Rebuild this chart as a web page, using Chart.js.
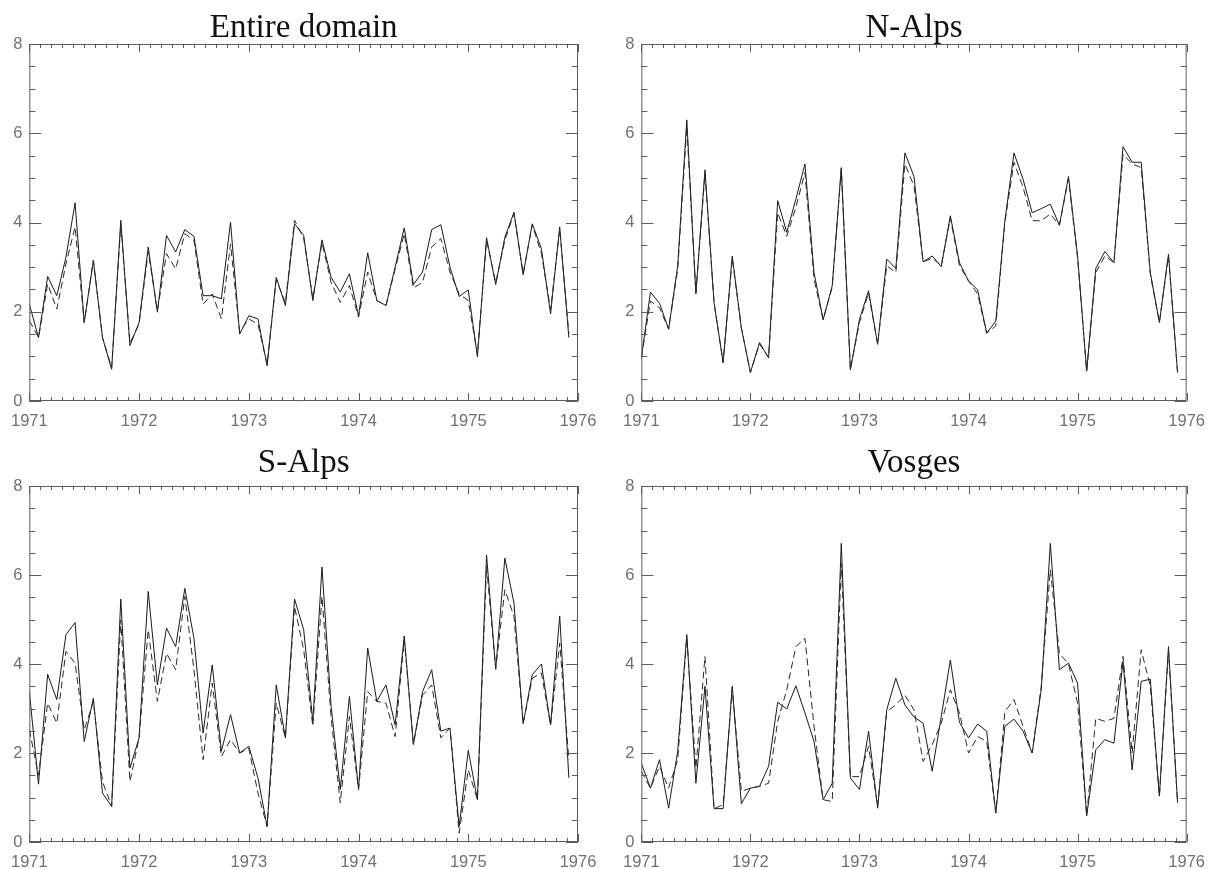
<!DOCTYPE html>
<html>
<head>
<meta charset="utf-8">
<title>Monthly series 1971-1975</title>
<script src="https://cdn.jsdelivr.net/npm/chart.js@4"></script>
<style>
  html, body { margin: 0; padding: 0; background: #fff; }
  #wrap { position: relative; width: 1216px; height: 869px; }
  canvas { position: absolute; }
</style>
</head>
<body>
<div id="wrap">
  <canvas id="p0" width="608" height="434" style="left:0;top:0"></canvas>
  <canvas id="p1" width="604" height="434" style="left:612px;top:0"></canvas>
  <canvas id="p2" width="608" height="435" style="left:0;top:434px"></canvas>
  <canvas id="p3" width="604" height="435" style="left:612px;top:434px"></canvas>
</div>
<script>
// time axis: monthly values, Jan 1971 .. Dec 1975
const startYear = 1971;
const endYear = 1976;
const yTicks = [0, 2, 4, 6, 8];

const titles = ['Entire domain', 'N-Alps', 'S-Alps', 'Vosges'];

// solid line
const entireA = [2.17, 1.42, 2.79, 2.36, 3.22, 4.44, 1.76, 3.15, 1.42, 0.71, 4.05, 1.24,
  1.76, 3.45, 1.99, 3.71, 3.34, 3.84, 3.69, 2.36, 2.36, 2.29, 4.01, 1.50,
  1.91, 1.84, 0.79, 2.77, 2.14, 3.97, 3.71, 2.25, 3.61, 2.77, 2.44, 2.85,
  1.91, 3.32, 2.25, 2.14, 3.00, 3.88, 2.61, 2.89, 3.84, 3.95, 3.00, 2.34,
  2.49, 0.99, 3.66, 2.61, 3.67, 4.23, 2.83, 3.97, 3.41, 1.95, 3.90, 1.42];
// dashed line
const entireB = [1.80, 1.42, 2.62, 2.06, 3.07, 3.90, 1.76, 3.15, 1.42, 0.75, 3.95, 1.30,
  1.72, 3.35, 2.02, 3.30, 2.96, 3.75, 3.60, 2.17, 2.40, 1.84, 3.52, 1.55,
  1.84, 1.72, 0.82, 2.72, 2.20, 4.05, 3.65, 2.30, 3.55, 2.66, 2.21, 2.59,
  1.88, 2.89, 2.25, 2.14, 2.95, 3.75, 2.53, 2.66, 3.45, 3.64, 2.89, 2.40,
  2.25, 1.05, 3.60, 2.65, 3.60, 4.20, 2.85, 3.95, 3.30, 2.05, 3.85, 1.50];

const nAlpsA = [0.97, 2.44, 2.19, 1.61, 3.03, 6.30, 2.41, 5.18, 2.20, 0.86, 3.25, 1.64,
  0.64, 1.31, 0.97, 4.49, 3.78, 4.52, 5.31, 2.88, 1.82, 2.58, 5.23, 0.70,
  1.83, 2.47, 1.27, 3.18, 2.97, 5.56, 5.03, 3.12, 3.25, 3.01, 4.15, 3.10,
  2.69, 2.49, 1.52, 1.79, 4.04, 5.56, 4.97, 4.22, 4.31, 4.41, 3.94, 5.03,
  3.25, 0.67, 2.97, 3.35, 3.10, 5.70, 5.35, 5.35, 2.88, 1.76, 3.29, 0.64];
const nAlpsB = [0.97, 2.24, 2.09, 1.61, 2.95, 6.15, 2.41, 5.10, 2.20, 0.86, 3.20, 1.64,
  0.64, 1.28, 0.97, 4.22, 3.69, 4.34, 5.12, 2.73, 1.82, 2.55, 5.20, 0.70,
  1.76, 2.42, 1.27, 3.03, 2.88, 5.31, 4.82, 3.12, 3.20, 3.04, 4.10, 3.04,
  2.69, 2.40, 1.52, 1.68, 4.00, 5.35, 4.79, 4.04, 4.04, 4.19, 3.94, 4.98,
  3.20, 0.67, 2.88, 3.25, 3.10, 5.53, 5.31, 5.23, 2.85, 1.76, 3.25, 0.64];

const sAlpsA = [3.38, 1.30, 3.77, 3.20, 4.66, 4.93, 2.26, 3.23, 1.10, 0.80, 5.46, 1.66,
  2.34, 5.63, 3.53, 4.81, 4.39, 5.70, 4.58, 2.45, 3.98, 2.04, 2.86, 2.00,
  2.15, 1.44, 0.35, 3.53, 2.34, 5.46, 4.77, 2.71, 6.18, 3.05, 1.18, 3.27,
  1.18, 4.36, 3.16, 3.53, 2.63, 4.63, 2.19, 3.38, 3.87, 2.49, 2.56, 0.35,
  2.06, 0.95, 6.45, 3.88, 6.38, 5.37, 2.66, 3.76, 4.00, 2.63, 5.08, 1.44];
const sAlpsB = [2.52, 1.50, 3.12, 2.67, 4.28, 4.02, 2.52, 3.15, 1.36, 0.80, 4.99, 1.36,
  2.34, 4.77, 3.16, 4.24, 3.87, 5.52, 3.87, 1.85, 3.57, 1.92, 2.30, 2.00,
  2.10, 1.10, 0.35, 3.12, 2.34, 5.29, 4.32, 2.60, 5.52, 2.80, 0.88, 2.82,
  1.18, 3.38, 3.16, 3.12, 2.37, 4.55, 2.20, 3.30, 3.53, 2.34, 2.56, 0.20,
  1.62, 0.95, 6.20, 3.90, 5.67, 5.07, 2.66, 3.68, 3.80, 2.63, 4.47, 1.85];

const vosgesA = [1.77, 1.21, 1.85, 0.76, 2.04, 4.66, 1.32, 3.50, 0.75, 0.75, 3.50, 0.86,
  1.21, 1.25, 1.70, 3.14, 2.99, 3.51, 2.90, 2.26, 0.95, 1.32, 6.71, 1.44,
  1.18, 2.49, 0.76, 2.97, 3.68, 3.08, 2.81, 2.67, 1.59, 2.82, 4.09, 2.69,
  2.34, 2.65, 2.49, 0.65, 2.60, 2.76, 2.49, 2.00, 3.42, 6.71, 3.87, 4.02,
  3.57, 0.59, 2.07, 2.30, 2.22, 4.06, 1.62, 3.61, 3.66, 1.03, 4.39, 0.88];
const vosgesB = [1.59, 1.21, 1.70, 1.21, 1.85, 4.60, 1.66, 4.17, 0.75, 0.84, 3.45, 1.14,
  1.21, 1.25, 1.32, 2.71, 3.42, 4.39, 4.58, 2.60, 0.95, 0.91, 6.26, 1.47,
  1.47, 2.15, 0.80, 2.93, 3.08, 3.30, 2.97, 1.81, 2.19, 2.67, 3.42, 2.90,
  2.00, 2.37, 2.26, 0.65, 2.93, 3.20, 2.60, 2.00, 3.50, 6.12, 4.24, 4.00,
  3.12, 0.59, 2.78, 2.71, 2.78, 4.17, 2.00, 4.32, 3.50, 1.03, 4.30, 0.88];

const seriesA = [entireA, nAlpsA, sAlpsA, vosgesA];
const seriesB = [entireB, nAlpsB, sAlpsB, vosgesB];

const toPoints = vals => vals.map((v, i) => ({ x: startYear + i / 12, y: v }));

// IDL-style box: frame, inward major/minor ticks on all four sides, title
const boxFrame = {
  id: 'boxFrame',
  afterDraw(chart, args, opts) {
    const { ctx, chartArea: a, scales: { x, y } } = chart;
    ctx.save();
    ctx.strokeStyle = '#5c5c5c';
    ctx.lineWidth = 1;
    ctx.beginPath();
    ctx.rect(a.left + 0.5, a.top + 0.5, a.right - a.left - 1, a.bottom - a.top - 1);
    for (let k = 0; k <= (x.max - x.min) * 10; k++) {
      const px = Math.round(x.getPixelForValue(x.min + k / 10)) + 0.5;
      const len = k % 10 === 0 ? 8 : 4;
      ctx.moveTo(px, a.bottom); ctx.lineTo(px, a.bottom - len);
      ctx.moveTo(px, a.top); ctx.lineTo(px, a.top + len);
    }
    for (let k = 0; k <= (y.max - y.min) * 2; k++) {
      const py = Math.round(y.getPixelForValue(y.min + k / 2)) + 0.5;
      const len = k % 4 === 0 ? 12 : 6;
      ctx.moveTo(a.left, py); ctx.lineTo(a.left + len, py);
      ctx.moveTo(a.right, py); ctx.lineTo(a.right - len, py);
    }
    ctx.stroke();
    ctx.fillStyle = '#111';
    ctx.font = '33px "Liberation Serif"';
    ctx.textAlign = 'center';
    ctx.textBaseline = 'alphabetic';
    ctx.fillText(opts.text, (a.left + a.right) / 2, opts.baseline);
    ctx.restore();
  }
};

const tickFont = { family: 'Liberation Sans', size: 16.5 };

function makePanel(idx) {
  const top = idx < 2;
  const canvas = document.getElementById('p' + idx);
  new Chart(canvas, {
    type: 'line',
    data: {
      datasets: [
        {
          data: toPoints(seriesB[idx]),
          borderColor: '#2a2a2a',
          borderWidth: 1,
          borderDash: [7, 4],
          pointRadius: 0,
          tension: 0
        },
        {
          data: toPoints(seriesA[idx]),
          borderColor: '#1a1a1a',
          borderWidth: 1,
          pointRadius: 0,
          tension: 0
        }
      ]
    },
    options: {
      responsive: false,
      animation: false,
      events: [],
      layout: { padding: { left: 0, top: top ? 44 : 52, right: idx % 2 ? 27 : 30, bottom: 0 } },
      plugins: {
        legend: { display: false },
        tooltip: { enabled: false },
        boxFrame: { text: titles[idx], baseline: top ? 37 : 38 }
      },
      scales: {
        x: {
          type: 'linear',
          min: startYear,
          max: endYear,
          grid: { display: false, drawTicks: false },
          border: { display: false },
          ticks: {
            stepSize: 1,
            padding: 11,
            maxRotation: 0,
            color: '#707070',
            font: tickFont,
            callback: v => String(v)
          },
          afterFit: s => { s.height = top ? 33 : 27; }
        },
        y: {
          min: yTicks[0],
          max: yTicks[yTicks.length - 1],
          grid: { display: false, drawTicks: false },
          border: { display: false },
          ticks: {
            stepSize: 2,
            padding: 7,
            color: '#707070',
            font: tickFont
          },
          afterFit: s => { s.width = 29; }
        }
      }
    },
    plugins: [boxFrame]
  });
}

[0, 1, 2, 3].forEach(makePanel);
</script>
</body>
</html>
